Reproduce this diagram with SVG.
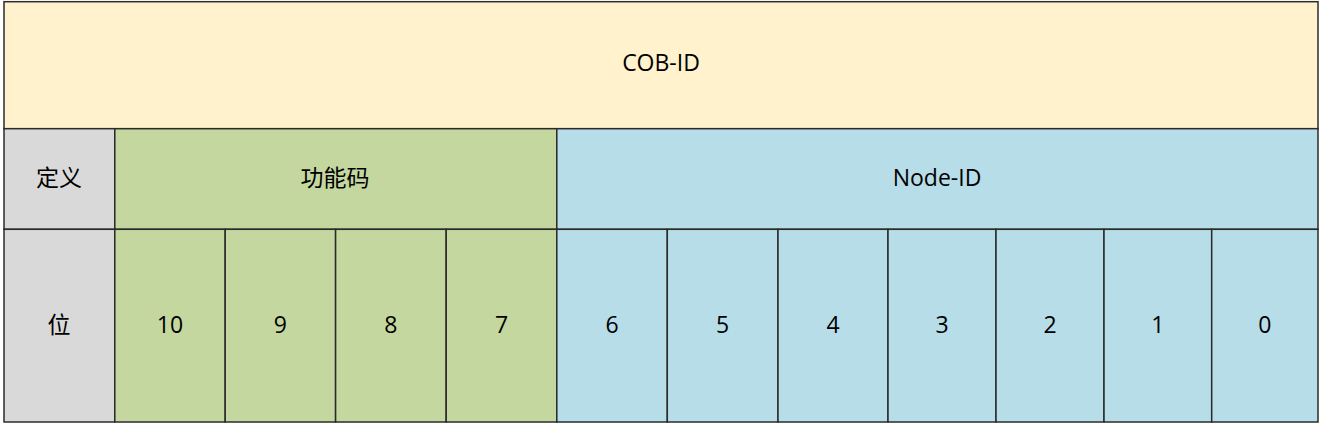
<svg xmlns="http://www.w3.org/2000/svg" width="1323" height="425" viewBox="0 0 1323 425">
<style>
rect{stroke:#2b2b2b;stroke-width:1.5}
.y{fill:#FFF2CC}.g{fill:#D9D9D9}.gr{fill:#C4D79F}.b{fill:#B7DDE8}
text{font-family:"Open Sans","Noto Sans CJK SC",sans-serif;font-size:23px;fill:#000;text-anchor:middle}
</style>
<rect width="1323" height="425" fill="#ffffff" style="stroke:none"/>
<g id="cob-id"><rect class="y" x="4" y="1.7" width="1314" height="127"/><text x="661" y="71">COB-ID</text></g>
<g id="def-label"><rect class="g" x="4" y="128.7" width="110.8" height="100.6"/><text x="59" y="186">定义</text></g>
<g id="func-code"><rect class="gr" x="114.8" y="128.7" width="442" height="100.6"/><text x="335" y="186">功能码</text></g>
<g id="node-id"><rect class="b" x="556.8" y="128.7" width="761.2" height="100.6"/><text x="937" y="186">Node-ID</text></g>
<g id="bit-label"><rect class="g" x="4" y="229.3" width="110.8" height="192.7"/><text x="59" y="333">位</text></g>
<g id="bit10"><rect class="gr" x="114.8" y="229.3" width="110.4" height="192.7"/><text x="170" y="333">10</text></g>
<g id="bit9"><rect class="gr" x="225.2" y="229.3" width="110.4" height="192.7"/><text x="280.4" y="333">9</text></g>
<g id="bit8"><rect class="gr" x="335.6" y="229.3" width="110.6" height="192.7"/><text x="390.9" y="333">8</text></g>
<g id="bit7"><rect class="gr" x="446.2" y="229.3" width="110.6" height="192.7"/><text x="501.5" y="333">7</text></g>
<g id="bit6"><rect class="b" x="556.8" y="229.3" width="110.5" height="192.7"/><text x="612" y="333">6</text></g>
<g id="bit5"><rect class="b" x="667.3" y="229.3" width="110.7" height="192.7"/><text x="722.6" y="333">5</text></g>
<g id="bit4"><rect class="b" x="778" y="229.3" width="110" height="192.7"/><text x="833" y="333">4</text></g>
<g id="bit3"><rect class="b" x="888" y="229.3" width="108" height="192.7"/><text x="942" y="333">3</text></g>
<g id="bit2"><rect class="b" x="996" y="229.3" width="108" height="192.7"/><text x="1050" y="333">2</text></g>
<g id="bit1"><rect class="b" x="1104" y="229.3" width="107.7" height="192.7"/><text x="1157.8" y="333">1</text></g>
<g id="bit0"><rect class="b" x="1211.7" y="229.3" width="106.3" height="192.7"/><text x="1264.8" y="333">0</text></g>
<g id="connectors"/>
</svg>
